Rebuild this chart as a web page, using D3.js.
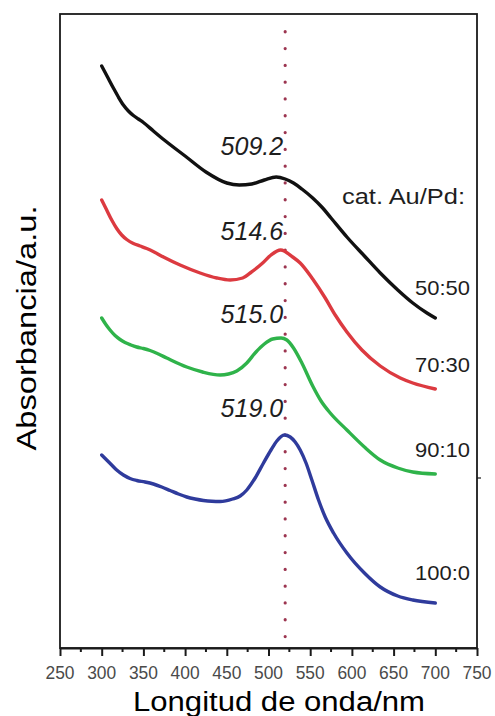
<!DOCTYPE html>
<html>
<head>
<meta charset="utf-8">
<script src="https://cdn.jsdelivr.net/npm/d3@7/dist/d3.min.js"></script>
<style>
  html, body { margin: 0; padding: 0; background: #fff; }
  svg { display: block; }
  text { font-family: "Liberation Sans", Arial, sans-serif; }
</style>
</head>
<body>
<svg id="chart" width="495" height="716"></svg>
<script>
// UV-Vis spectra of Au/Pd catalysts (absorbance, arbitrary units, curves offset)
const seriesNames = ["50:50", "70:30", "90:10", "100:0"];
const seriesColors = ["#111111", "#dc3a40", "#2fb34a", "#2f3b9c"];
const peakWavelengths = [509.2, 514.6, 515.0, 519.0];
const peakLabels = ["509.2", "514.6", "515.0", "519.0"];
const referenceWavelength = 520;

const wl5050  = [300, 307, 314, 320, 326, 332, 338, 344, 350, 362, 375, 400, 425, 450, 465, 480, 495, 509.2, 520, 530, 540, 553, 565, 575, 594, 615, 634, 655, 673, 690, 700];
const abs5050 = [5.82, 5.71, 5.60, 5.51, 5.43, 5.37, 5.325, 5.29, 5.255, 5.17, 5.08, 4.92, 4.76, 4.65, 4.63, 4.64, 4.68, 4.71, 4.69, 4.65, 4.59, 4.50, 4.40, 4.30, 4.11, 3.92, 3.75, 3.58, 3.45, 3.35, 3.30];

const wl7030  = [300, 306, 312, 318, 324, 330, 338, 346, 354, 364, 374, 394, 418, 438, 454, 469, 478, 493, 503, 514.6, 529, 538, 553, 568, 580, 594, 612, 634, 658, 673, 700];
const abs7030 = [4.48, 4.38, 4.28, 4.195, 4.13, 4.085, 4.045, 4.02, 3.995, 3.955, 3.91, 3.83, 3.75, 3.70, 3.68, 3.70, 3.75, 3.85, 3.93, 3.98, 3.91, 3.85, 3.69, 3.50, 3.33, 3.16, 2.98, 2.82, 2.70, 2.65, 2.59];

const wl9010  = [300, 305, 310, 316, 322, 328, 335, 342, 350, 358, 368, 378, 402, 421, 442, 452, 462, 474, 485, 495, 505, 515.0, 522, 530, 540, 553, 563, 574, 594, 615, 634, 655, 673, 700];
const abs9010 = [3.30, 3.235, 3.18, 3.125, 3.085, 3.055, 3.03, 3.01, 2.995, 2.975, 2.94, 2.90, 2.81, 2.76, 2.73, 2.74, 2.77, 2.85, 2.96, 3.04, 3.09, 3.10, 3.08, 3.00, 2.85, 2.62, 2.47, 2.35, 2.18, 2.01, 1.88, 1.80, 1.76, 1.74];

const wl1000  = [300, 306, 312, 318, 326, 334, 342, 352, 362, 372, 382, 392, 402, 412, 422, 432, 442, 457, 466, 474, 484, 494, 503, 510, 519.0, 526, 532, 538, 545, 552, 560, 568, 578, 594, 615, 634, 655, 673, 700];
const abs1000 = [1.93, 1.88, 1.83, 1.78, 1.73, 1.695, 1.675, 1.66, 1.64, 1.61, 1.575, 1.54, 1.51, 1.49, 1.475, 1.467, 1.465, 1.49, 1.52, 1.58, 1.70, 1.85, 1.98, 2.07, 2.13, 2.11, 2.06, 1.98, 1.85, 1.68, 1.48, 1.31, 1.15, 0.95, 0.75, 0.61, 0.52, 0.48, 0.45];

const xTickValues = [250, 300, 350, 400, 450, 500, 550, 600, 650, 700, 750];

const wavelengths = [wl5050, wl7030, wl9010, wl1000];
const absorbances = [abs5050, abs7030, abs9010, abs1000];

// ---- layout ----
const W = 495, H = 716;
const margin = { top: 14, right: 18, bottom: 68, left: 60 };
const innerW = W - margin.left - margin.right;
const innerH = H - margin.top - margin.bottom;

const svg = d3.select("#chart");
const g = svg.append("g").attr("transform", `translate(${margin.left},${margin.top})`);

const x = d3.scaleLinear().domain([250, 750]).range([0, innerW]);
const y = d3.scaleLinear().domain([0, 6.34]).range([innerH, 0]);

// frame
g.append("rect")
  .attr("x", 0).attr("y", 0)
  .attr("width", innerW).attr("height", innerH)
  .attr("fill", "none").attr("stroke", "#1a1a1a").attr("stroke-width", 1.8);

// bottom axis: major ticks (labels drawn separately), minor ticks between
const xAxis = d3.axisBottom(x).tickValues(xTickValues).tickSize(8).tickSizeOuter(0).tickFormat("");
const axG = g.append("g").attr("transform", `translate(0,${innerH})`).call(xAxis);
axG.select(".domain").attr("stroke", "#1a1a1a").attr("stroke-width", 2.2);
axG.selectAll(".tick line").attr("stroke", "#1a1a1a").attr("stroke-width", 2);

g.append("g").attr("class", "x-labels")
  .selectAll("text").data(xTickValues).join("text")
  .attr("x", d => x(d))
  .attr("y", innerH + 31)
  .attr("text-anchor", "middle")
  .attr("fill", "#4a4a4a")
  .style("font-size", "17.5px")
  .attr("textLength", 29)
  .attr("lengthAdjust", "spacingAndGlyphs")
  .text(d => d3.format("d")(d));

const minorTicks = d3.range(275, 750, 50);
g.append("g").selectAll("line").data(minorTicks).join("line")
  .attr("x1", d => x(d)).attr("x2", d => x(d))
  .attr("y1", innerH).attr("y2", innerH + 4)
  .attr("stroke", "#1a1a1a").attr("stroke-width", 2);

// small tick on the right edge
g.append("line")
  .attr("x1", innerW).attr("x2", innerW + 4)
  .attr("y1", y(1.7)).attr("y2", y(1.7))
  .attr("stroke", "#1a1a1a").attr("stroke-width", 1.2);

// reference line at the Au plasmon position
g.append("line")
  .attr("x1", x(referenceWavelength)).attr("x2", x(referenceWavelength))
  .attr("y1", 17.7).attr("y2", innerH)
  .attr("stroke", "#9c3550")
  .attr("stroke-width", 3.2)
  .attr("stroke-linecap", "round")
  .attr("stroke-dasharray", "0.1,16.7");

// spectra
const line = d3.line()
  .x(d => x(d[0]))
  .y(d => y(d[1]))
  .curve(d3.curveMonotoneX);

seriesNames.forEach((name, i) => {
  const pts = d3.zip(wavelengths[i], absorbances[i]);
  g.append("path")
    .datum(pts)
    .attr("fill", "none")
    .attr("stroke", seriesColors[i])
    .attr("stroke-width", 3.4)
    .attr("stroke-linecap", "round")
    .attr("stroke-linejoin", "round")
    .attr("d", line);
});

// peak position labels, right-aligned just left of the reference line
const peakLabelOffsets = [-22, -10, -15, -18];
seriesNames.forEach((name, i) => {
  const idx = wavelengths[i].indexOf(peakWavelengths[i]);
  const py = y(absorbances[i][idx]);
  g.append("text")
    .attr("x", x(referenceWavelength) - 2)
    .attr("y", py + peakLabelOffsets[i])
    .attr("text-anchor", "end")
    .attr("fill", "#1e1e1e")
    .style("font-size", "25px")
    .style("font-style", "italic")
    .text(peakLabels[i]);
});

// composition labels
const ratioLabelY = [281, 358, 443, 566];
g.append("text")
  .attr("x", 282).attr("y", 190)
  .attr("fill", "#1e1e1e")
  .style("font-size", "22px")
  .attr("textLength", 123)
  .attr("lengthAdjust", "spacingAndGlyphs")
  .text("cat. Au/Pd:");
seriesNames.forEach((name, i) => {
  g.append("text")
    .attr("x", 355).attr("y", ratioLabelY[i])
    .attr("fill", "#1e1e1e")
    .style("font-size", "21px")
    .attr("textLength", 55)
    .attr("lengthAdjust", "spacingAndGlyphs")
    .text(name);
});

// axis titles
svg.append("text")
  .attr("x", 279).attr("y", 711)
  .attr("text-anchor", "middle")
  .attr("fill", "#000")
  .style("font-size", "27px")
  .attr("textLength", 292)
  .attr("lengthAdjust", "spacingAndGlyphs")
  .text("Longitud de onda/nm");

svg.append("text")
  .attr("transform", "translate(36,328) rotate(-90)")
  .attr("text-anchor", "middle")
  .attr("fill", "#000")
  .style("font-size", "27px")
  .attr("textLength", 245)
  .attr("lengthAdjust", "spacingAndGlyphs")
  .text("Absorbancia/a.u.");
</script>
</body>
</html>
